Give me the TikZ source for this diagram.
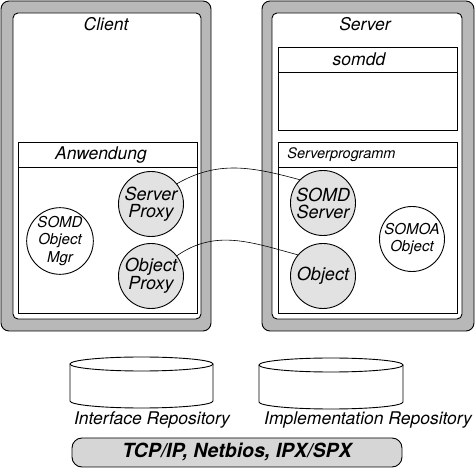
\documentclass[tikz,border=0pt]{standalone}
\usepackage{fontspec}
\setmainfont{TeX Gyre Heros}
\definecolor{band}{HTML}{B8B8B8}
\definecolor{ball}{HTML}{E2E2E2}
\definecolor{bar}{HTML}{D6D6D6}
\begin{document}
\begin{tikzpicture}[x=1pt,y=-1pt,line width=0.9pt,
  ballA/.style={circle,draw,fill=ball,minimum size=65pt,inner sep=0pt,align=center,font=\itshape\fontsize{18}{17}\selectfont},
  ballB/.style={circle,draw,fill=white,minimum size=65pt,inner sep=0pt,align=center,font=\itshape\fontsize{15}{17.5}\selectfont},
  lbl/.style={font=\itshape\fontsize{17.5}{17}\selectfont,inner sep=0pt},
  link/.style={line width=0.6pt}]
\useasboundingbox (0,0) rectangle (475,468);
% Client
\draw[fill=band,rounded corners=8pt] (1,1) rectangle (211,331);
\draw[fill=white,rounded corners=5pt] (13,13) rectangle (201,319);
\node[lbl] (client) at (106,24) {Client};
\draw (18,142) rectangle (197,313);
\draw (18,167) -- (197,167);
\node[lbl] (anw) at (101,155) {Anwendung};
% Server
\draw[fill=band,rounded corners=8pt] (262,1) rectangle (474,331);
\draw[fill=white,rounded corners=5pt] (272,13) rectangle (462,319);
\node[lbl] (server) at (365,24) {Server};
\draw (278,47) rectangle (457,130);
\draw (278,72) -- (457,72);
\node[lbl] (somdd) at (359,59) {somdd};
\draw (278,142) rectangle (457,313);
\draw (278,167) -- (457,167);
\node[font=\itshape\fontsize{14.5}{15}\selectfont,inner sep=0pt,anchor=west] (sprog) at (287,155) {Serverprogramm};
% circles
\node[ballA] (sp) at (151,204) {Server\\Proxy};
\node[ballB] (som) at (60,241) {SOMD\\Object\\Mgr};
\node[ballA] (op) at (151,276) {Object\\Proxy};
\node[ballA] (ss) at (323,203) {SOMD\\Server};
\node[ballB] (soa) at (412,239) {SOMOA\\Object};
\node[ballA] (ob) at (323,276) {Object};
% links
\draw[link] (sp.38) to[out=30,in=165] (ss.135);
\draw[link] (op.38) to[out=35,in=165] (ob.140);
% cylinders
\draw[fill=white] (70,364) -- (70,401) arc[start angle=180,end angle=0,x radius=71.5,y radius=7] -- (213,364);
\draw[fill=white] (141.5,364) ellipse[x radius=71.5,y radius=7];
\node[lbl] (ir) at (152,420) {Interface Repository};
\draw[fill=white] (259,365) -- (259,402) arc[start angle=180,end angle=0,x radius=72,y radius=7] -- (403,365);
\draw[fill=white] (331,365) ellipse[x radius=72,y radius=7];
\node[lbl] (impl) at (368,420) {Implementation Repository};
% bar
\draw[fill=bar,rounded corners=10pt] (72,438) rectangle (402,467);
\node[font=\bfseries\itshape\fontsize{19.5}{20}\selectfont,inner sep=0pt] (tcp) at (237,452) {TCP/IP, Netbios, IPX/SPX};
\end{tikzpicture}
\end{document}
